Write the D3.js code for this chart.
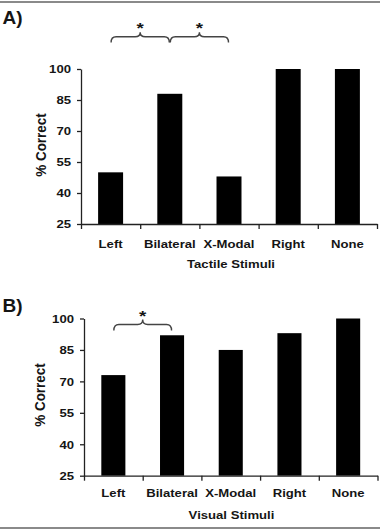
<!DOCTYPE html>
<html><head><meta charset="utf-8">
<script src="https://cdn.jsdelivr.net/npm/d3@7"></script>
<style>
body{margin:0;background:#fff}
svg{display:block}
text{font-family:"Liberation Sans",Arial,sans-serif;font-weight:bold;fill:#151515}
</style>
</head><body><svg id="c" width="380" height="532"></svg>
<script>
// ---- data ----
const categories = ["Left", "Bilateral", "X-Modal", "Right", "None"];
const tactileValues = [50, 88, 48, 100, 100];
const visualValues = [73, 92, 85, 93, 100];
const yTicks = [25, 40, 55, 70, 85, 100];
const tactileBraces = [["Left", "Bilateral"], ["Bilateral", "X-Modal"]];
const visualBraces = [["Left", "Bilateral"]];
const panelLabels = ["A)", "B)"];
const xTitles = ["Tactile Stimuli", "Visual Stimuli"];
const yTitle = "% Correct";

// ---- layout ----
const SX = 1.25; // horizontal stretch of the reference text
const panels = [
  {values: tactileValues, braces: tactileBraces, label: panelLabels[0], xTitle: xTitles[0],
   x0: 81, x1: 377, yTop: 69, yBot: 224, pad: 0.578, labelDy: 24, titleY: 268, titleX: 231,
   yTitleX: 40.5, yTitleY: 145, braceEnd: 42.5, braceMid: 36.8, braceTip: 32.3, starY: 33,
   plx: 2.5, ply: 24},
  {values: visualValues, braces: visualBraces, label: panelLabels[1], xTitle: xTitles[1],
   x0: 84, x1: 377.5, yTop: 318.5, yBot: 475.7, pad: 0.59, labelDy: 21.5, titleY: 519, titleX: 231.5,
   yTitleX: 40, yTitleY: 395, braceEnd: 330.5, braceMid: 324.5, braceTip: 319.5, starY: 320.5,
   plx: 2.5, ply: 312}
];

const svg = d3.select("#c");

// frame lines
svg.append("line").attr("x1", 0).attr("x2", 380).attr("y1", 2).attr("y2", 2)
  .attr("stroke", "#8a8a8a").attr("stroke-width", 2);
svg.append("line").attr("x1", 0).attr("x2", 380).attr("y1", 528).attr("y2", 528)
  .attr("stroke", "#8a8a8a").attr("stroke-width", 2);

panels.forEach(p => {
  const g = svg.append("g");
  const x = d3.scaleBand().domain(categories).range([p.x0, p.x1])
    .paddingInner(p.pad).paddingOuter(p.pad / 2);
  const xb = d3.scaleLinear().domain([0, categories.length]).range([p.x0, p.x1]);
  const y = d3.scaleLinear().domain([25, 100]).range([p.yBot, p.yTop]);

  // bars
  g.selectAll("rect.bar").data(categories).join("rect")
    .attr("class", "bar")
    .attr("x", d => x(d))
    .attr("width", x.bandwidth())
    .attr("y", (d, i) => y(p.values[i]))
    .attr("height", (d, i) => y(25) - y(p.values[i]))
    .attr("fill", "#000");

  // y axis
  const ya = g.append("g").attr("transform", `translate(${p.x0},0)`)
    .call(d3.axisLeft(y).tickValues(yTicks).tickSize(4).tickSizeOuter(0).tickPadding(6));
  ya.selectAll("path,line").attr("stroke", "#222").attr("stroke-width", 1.3);
  ya.selectAll("text")
    .attr("x", 0).attr("dy", "0.36em")
    .attr("transform", "translate(-10,0) scale(" + SX + ",1)")
    .style("font-size", "10.5px").style("font-family", null).style("font-weight", null)
    .attr("fill", "#151515").attr("font-family", null).attr("font-size", null);

  // x axis boundary ticks
  const xa = g.append("g").attr("transform", `translate(0,${p.yBot})`)
    .call(d3.axisBottom(xb).tickValues(d3.range(categories.length + 1)).tickSize(5)
      .tickSizeOuter(0).tickFormat(""));
  xa.selectAll("path,line").attr("stroke", "#222").attr("stroke-width", 1.3);

  // x labels
  const xl = g.append("g").attr("transform", `translate(0,${p.yBot})`)
    .call(d3.axisBottom(x).tickSize(0));
  xl.select(".domain").remove();
  xl.selectAll("text")
    .attr("x", 0).attr("y", 0).attr("dy", null)
    .attr("transform", `translate(0,${p.labelDy}) scale(${SX},1)`)
    .attr("fill", "#151515").attr("font-family", null).attr("font-size", null)
    .style("font-size", "10.5px");
  xl.attr("font-family", null).attr("font-size", null);
  ya.attr("font-family", null).attr("font-size", null);

  // x title
  g.append("text").attr("text-anchor", "middle")
    .attr("transform", `translate(${p.titleX},${p.titleY}) scale(${SX},1)`)
    .style("font-size", "10.5px").text(p.xTitle);

  // y title
  g.append("text").attr("text-anchor", "middle").attr("dominant-baseline", "central")
    .attr("transform", `translate(${p.yTitleX},${p.yTitleY}) rotate(-90) scale(1.08,1.2)`)
    .style("font-size", "12.5px").text(yTitle);

  // panel label
  g.append("text").attr("x", p.plx).attr("y", p.ply)
    .style("font-size", "19px").text(p.label);

  // braces with significance stars
  const cx = c => x(c) + x.bandwidth() / 2;
  p.braces.forEach(([a, b]) => {
    const x1 = cx(a) + 0.5, x2 = cx(b) - 0.5, xm = (x1 + x2) / 2, r = 5;
    const path = `M${x1},${p.braceEnd} Q${x1},${p.braceMid} ${x1 + r},${p.braceMid} L${xm - r},${p.braceMid} Q${xm},${p.braceMid} ${xm},${p.braceTip} Q${xm},${p.braceMid} ${xm + r},${p.braceMid} L${x2 - r},${p.braceMid} Q${x2},${p.braceMid} ${x2},${p.braceEnd}`;
    g.append("path").attr("d", path).attr("fill", "none")
      .attr("stroke", "#444").attr("stroke-width", 1.4);
    g.append("text").attr("text-anchor", "middle")
      .attr("transform", `translate(${xm},${p.starY}) scale(${SX},1)`)
      .style("font-size", "15px").attr("fill", "#333").text("*");
  });
});
</script>
</body></html>
